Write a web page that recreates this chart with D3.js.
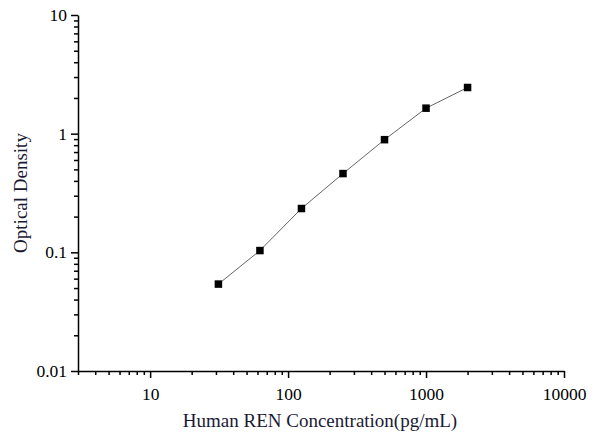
<!DOCTYPE html>
<html>
<head>
<meta charset="utf-8">
<script src="https://cdn.jsdelivr.net/npm/d3@7"></script>
<style>
  body { margin: 0; background: #fff; overflow: hidden; }
  svg { display: block; }
  .line-path { fill: none; stroke: #666; stroke-width: 1; }
  .axis text { font-family: 'Liberation Serif', 'Times New Roman', serif; font-size: 17.5px; fill: #000; }
  .axis path, .axis line { stroke: #000; stroke-width: 1.5; }
  .title { font-family: 'Liberation Serif', 'Times New Roman', serif; font-size: 19px; fill: #1a1a33; }
</style>
</head>
<body>
<div id="chart"></div>
<script>
const concentration = [31.25, 62.5, 125, 250, 500, 1000, 2000];
const density = [0.054, 0.1035, 0.234, 0.461, 0.89, 1.64, 2.45];
const xTicks = [10, 100, 1000, 10000];
const yTicks = [0.01, 0.1, 1, 10];
const xLabel = 'Human REN Concentration(pg/mL)';
const yLabel = 'Optical Density';

const data = concentration.map((c, i) => ({conc: c, od: density[i]}));

const width = 600;
const height = 445;
const margin = {top: 15, right: 36, bottom: 74, left: 78};
const innerWidth = width - margin.left - margin.right;
const innerHeight = height - margin.top - margin.bottom;

const svg = d3.select('#chart').append('svg')
  .attr('width', width)
  .attr('height', height);

const xScale = d3.scaleLog()
  .domain([3, 10000])
  .range([0, innerWidth]);

const yScale = d3.scaleLog()
  .domain([0.01, 10])
  .range([innerHeight, 0]);

const g = svg.append('g')
  .attr('transform', `translate(${margin.left}, ${margin.top})`);

// minor ticks 2..9 in each decade
const minors = (lo, hi, dom) => {
  const out = [];
  for (let p = lo; p <= hi; p *= 10) {
    for (let k = 2; k <= 9; k++) {
      const v = p * k;
      if (v >= dom[0] && v <= dom[1]) out.push(v);
    }
  }
  return out;
};

const xAxisG = g.append('g')
  .attr('class', 'axis')
  .attr('transform', `translate(0, ${innerHeight})`);
xAxisG.call(d3.axisBottom(xScale)
  .tickValues(minors(1, 1000, xScale.domain()))
  .tickFormat('')
  .tickSize(4)
  .tickSizeOuter(0))
  .call(s => s.selectAll('text').remove());
xAxisG.append('g')
  .call(d3.axisBottom(xScale)
    .tickValues(xTicks)
    .tickFormat(d3.format('d'))
    .tickSize(7)
    .tickPadding(10)
    .tickSizeOuter(0))
  .call(s => s.select('.domain').remove());

const yAxisG = g.append('g')
  .attr('class', 'axis');
yAxisG.call(d3.axisLeft(yScale)
  .tickValues(minors(0.01, 1, yScale.domain()))
  .tickFormat('')
  .tickSize(4)
  .tickSizeOuter(0))
  .call(s => s.selectAll('text').remove());
yAxisG.append('g')
  .call(d3.axisLeft(yScale)
    .tickValues(yTicks)
    .tickFormat(d => String(d))
    .tickSize(7)
    .tickPadding(4)
    .tickSizeOuter(0))
  .call(s => s.select('.domain').remove());

// line
const lineGenerator = d3.line()
  .x(d => xScale(d.conc))
  .y(d => yScale(d.od));

g.append('path')
  .attr('class', 'line-path')
  .attr('d', lineGenerator(data));

// markers
const size = 7.5;
g.selectAll('rect.pt')
  .data(data)
  .enter().append('rect')
  .attr('class', 'pt')
  .attr('x', d => xScale(d.conc) - size / 2)
  .attr('y', d => yScale(d.od) - size / 2)
  .attr('width', size)
  .attr('height', size)
  .attr('fill', '#000');

// axis titles
svg.append('text')
  .attr('class', 'title')
  .attr('x', 320)
  .attr('y', 427)
  .attr('text-anchor', 'middle')
  .text(xLabel);

svg.append('text')
  .attr('class', 'title')
  .attr('transform', `translate(27, 193) rotate(-90)`)
  .attr('text-anchor', 'middle')
  .text(yLabel);
</script>
</body>
</html>
